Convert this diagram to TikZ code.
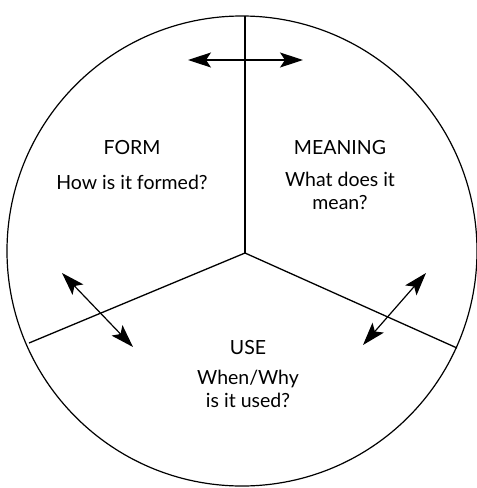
\documentclass[tikz,border=0pt]{standalone}
\usepackage{fontspec}
\setmainfont{Lato}
\usetikzlibrary{arrows.meta,positioning}

\begin{document}
\begin{tikzpicture}[x=1pt,y=-1pt,every node/.style={font=\fontsize{19.5}{23}\selectfont},
  seg/.style={line width=1.3pt},
  link/.style={line width=1.2pt,arrows={Stealth[length=23pt,width=15pt,inset=5pt]-Stealth[length=23pt,width=15pt,inset=5pt]}}]
\useasboundingbox (0,0) rectangle (477,488);
\coordinate (o) at (242,251);
\coordinate (hub) at (245,253);
\coordinate (top) at (245,16);
\coordinate (left) at (29,343);
\coordinate (right) at (457,348);
\draw[line width=1.2pt] (o) circle (235);
\draw[seg] (top)--(hub);
\draw[seg] (hub)--(left);
\draw[seg] (hub)--(right);
% arrows across the borders
\coordinate (a1) at (188,60);  \coordinate (b1) at (303,60);
\coordinate (a2) at (62,273);  \coordinate (b2) at (133,347);
\coordinate (a3) at (426,273); \coordinate (b3) at (363,345);
\draw[link] (a1)--(b1);
\draw[link] (a2)--(b2);
\draw[link] (a3)--(b3);
% labels
\node (form) at (132,148) {FORM};
\node (formq) at (132,182) {How is it formed?};
\node (meaning) at (340,148) {MEANING};
\node[align=center,anchor=north] (meaningq) at (340,169) {What does it\\mean?};
\node (use) at (248,348) {USE};
\node[align=center,anchor=north] (useq) at (248,367) {When/Why\\is it used?};
\end{tikzpicture}
\end{document}
